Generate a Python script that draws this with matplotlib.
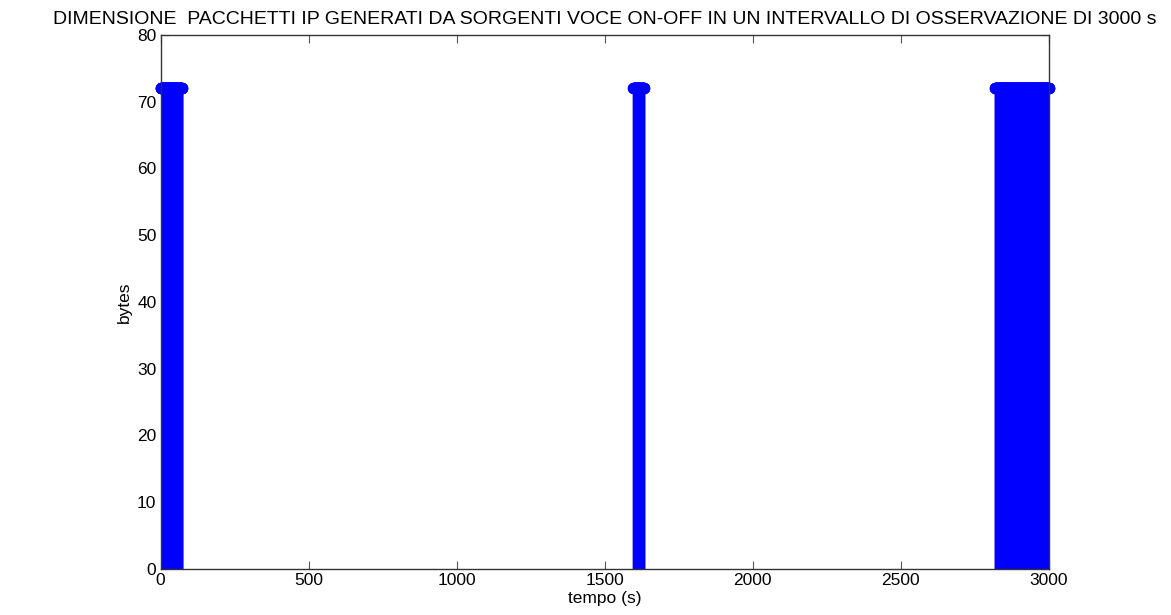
import numpy as np
import matplotlib
matplotlib.use('Agg')
import matplotlib.pyplot as plt

# periodi ON delle sorgenti voce (s) e dimensione pacchetto IP (bytes)
on_start = [0, 1596, 2818]
on_end = [72, 1632, 3000]
packet_size = 72
packet_period = 0.5

t = np.concatenate([np.arange(a, b + 1e-9, packet_period) for a, b in zip(on_start, on_end)])
size = np.full(len(t), packet_size)

plt.rcParams['font.family'] = ['Liberation Sans', 'DejaVu Sans']

fig = plt.figure(figsize=(11.71, 6.15), dpi=100)
ax = fig.add_axes([0.1372, 0.0748, 0.7586, 0.8683])

ax.vlines(t, 0, size, color='#0000ff', linewidth=1)
ax.plot(t, size, 'o', markersize=7, markerfacecolor='none', markeredgecolor='#0000ff',
        markeredgewidth=1.2, clip_on=False)

ax.set_xlim(0, 3000)
ax.set_ylim(0, 80)
ax.set_xticks(np.arange(0, 3001, 500))
ax.set_yticks(np.arange(0, 81, 10))
ax.tick_params(direction='in', top=True, right=True, length=6, color='#555555', labelsize=12.5, pad=3)
for s in ax.spines.values():
    s.set_color('#333333')
    s.set_linewidth(1)

ax.set_xlabel('tempo (s)', fontsize=12.5, labelpad=2)
ax.set_ylabel('bytes', fontsize=12.5, labelpad=4)
ax.set_title('DIMENSIONE  PACCHETTI IP GENERATI DA SORGENTI VOCE ON-OFF IN UN INTERVALLO DI OSSERVAZIONE DI 3000 s',
             fontsize=14, pad=8)

fig.savefig('out.png', dpi=100)
